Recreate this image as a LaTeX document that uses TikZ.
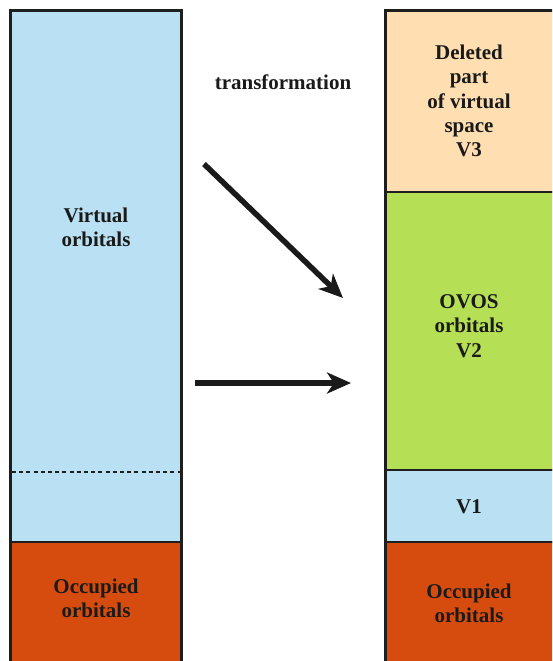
\documentclass[tikz,border=0pt]{standalone}
\usepackage{fontspec}
\setmainfont{Liberation Serif}
\usetikzlibrary{arrows.meta}
\definecolor{virtblue}{RGB}{185,225,243}
\definecolor{delpeach}{RGB}{255,223,178}
\definecolor{ovosgreen}{RGB}{181,223,85}
\definecolor{occorange}{RGB}{214,76,14}
\definecolor{edge}{RGB}{30,30,30}
\definecolor{ink}{RGB}{26,26,26}
\tikzset{
  block/.style={draw=edge, line width=2.4pt},
  lbl/.style={text=ink, align=center, inner sep=0pt,
    font=\fontsize{21}{24.3}\selectfont\bfseries},
  bigarrow/.style={draw=ink, line width=5.5pt,
    -{Stealth[length=24pt,width=21pt,inset=7pt]}},
}
\begin{document}
\begin{tikzpicture}[x=1pt,y=-1pt]
\useasboundingbox (0,0) rectangle (552,661);
\fill[white] (0,0) rectangle (552,661);
\begin{scope}
\clip (0,0) rectangle (552,661);
% left column: virtual and occupied orbitals
\path[fill=virtblue, block] (10.5,10.5) rectangle (181.5,542);
\path[fill=occorange, block] (10.5,542) rectangle (181.5,680);
\draw[edge, line width=1.3pt, dash pattern=on 4pt off 3.2pt] (12,472) -- (180,472);
% right column: V3, V2, V1 and occupied orbitals
\path[fill=delpeach, block] (385.5,10.5) rectangle (570,192);
\path[fill=ovosgreen, block] (385.5,192) rectangle (570,470);
\path[fill=virtblue, block] (385.5,470) rectangle (570,542);
\path[fill=occorange, block] (385.5,542) rectangle (570,680);
\end{scope}
% labels
\node[lbl] (trans) at (283,82) {transformation};
\node[lbl] (virt) at (96,227) {Virtual\\orbitals};
\node[lbl] (occL) at (96,598) {Occupied\\orbitals};
\node[lbl] (v3) at (469,101) {Deleted\\part\\of virtual\\space\\V3};
\node[lbl] (v2) at (469,326) {OVOS\\orbitals\\V2};
\node[lbl] (v1) at (469,507) {V1};
\node[lbl] (occR) at (469,603) {Occupied\\orbitals};
% mapping arrows
\coordinate (d0) at (204,164);
\coordinate (d1) at (343,298);
\coordinate (h0) at (195,383);
\coordinate (h1) at (351,383);
\draw[bigarrow] (d0) -- (d1);
\draw[bigarrow] (h0) -- (h1);
\end{tikzpicture}
\end{document}
